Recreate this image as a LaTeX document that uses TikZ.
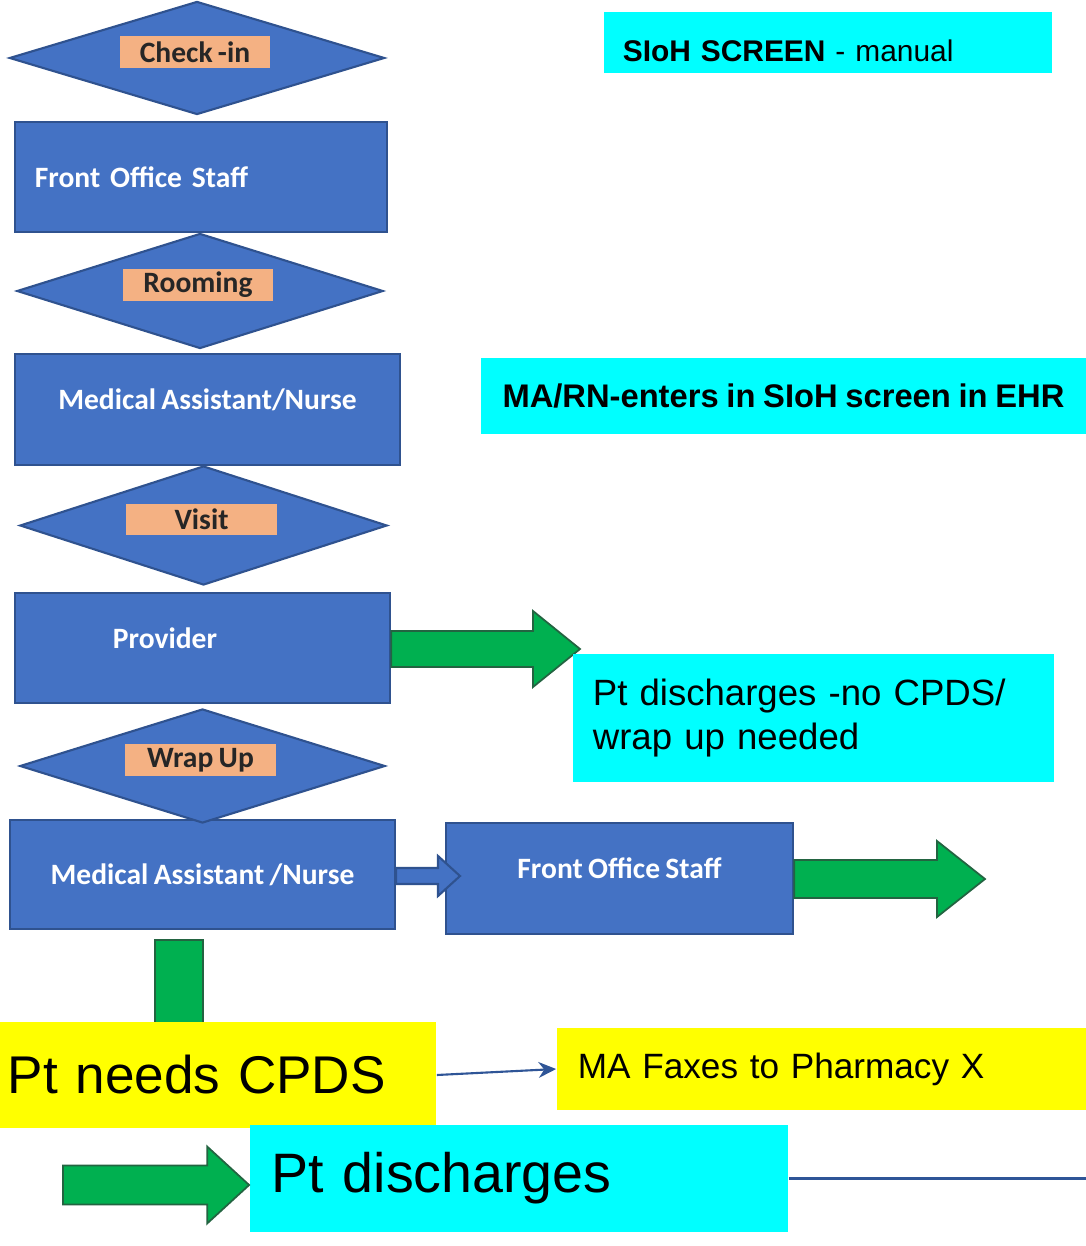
\documentclass[tikz,border=0pt]{standalone}
\usepackage{fontspec}
\setmainfont{Liberation Sans}[WordSpace=0.85]
\newfontfamily\calibfont{Carlito}[WordSpace=0.8]
\usetikzlibrary{shapes.geometric, arrows.meta, positioning, calc}
\definecolor{flowblue}{RGB}{68,114,196}
\definecolor{flowedge}{RGB}{47,82,143}
\definecolor{tagorange}{RGB}{244,177,131}
\definecolor{flowgreen}{RGB}{0,176,80}
\definecolor{greenedge}{RGB}{35,100,65}
\definecolor{notecyan}{RGB}{0,255,255}
\definecolor{noteyellow}{RGB}{255,255,0}
\definecolor{linkblue}{RGB}{47,85,151}
% style, from, tip, body half, head half, head length
\newcommand{\blockarrow}[6]{%
  \draw[#1] ($(#2 |- #3)+(0,-#4)$) -- ($(#3)+(-#6,-#4)$) -- ($(#3)+(-#6,-#5)$) -- (#3)
    -- ($(#3)+(-#6,#5)$) -- ($(#3)+(-#6,#4)$) -- ($(#2 |- #3)+(0,#4)$) -- cycle;}

\begin{document}
\begin{tikzpicture}[x=0.01cm, y=-0.01cm]
    \tikzset{proc/.style={rectangle, draw=flowedge, line width=0.6pt, fill=flowblue,
                          text=white, align=center,
                          font=\calibfont\bfseries\fontsize{8.4}{10}\selectfont},
             raised/.style={text height=0.2cm, text depth=0.2cm},
             gate/.style={diamond, draw=flowedge, line width=0.6pt, fill=flowblue,
                          inner sep=0pt},
             tag/.style={rectangle, fill=tagorange, minimum width=1.50cm,
                         minimum height=0.31cm, inner sep=0pt, text=black!85,
                         font=\calibfont\bfseries\fontsize{8.4}{10}\selectfont},
             note/.style={rectangle, fill=notecyan, inner ysep=0pt, align=left},
             garrow/.style={fill=flowgreen, draw=greenedge, line width=0.5pt},
             barrow/.style={fill=flowblue, draw=flowedge, line width=0.6pt},
             link/.style={linkblue, line width=0.6pt}}
    \path[use as bounding box, fill=white] (0,0) rectangle (1086,1246);

    \node[proc, minimum width=3.72cm, minimum height=1.10cm, text width=3.32cm,
          inner xsep=0.20cm, align=left] (fos1) at (201,177) {Front Office Staff};
    \node[proc, raised, minimum width=3.85cm, minimum height=1.11cm] (ma1) at (207.5,409.5)
          {Medical Assistant/Nurse};
    \node[proc, raised, minimum width=3.75cm, minimum height=1.10cm, text width=1.79cm,
          inner xsep=0.98cm, align=left] (prov) at (202.5,648) {Provider};
    \node[proc, minimum width=3.85cm, minimum height=1.09cm] (ma2) at (202.5,874.5)
          {Medical Assistant /Nurse};
    \node[proc, raised, minimum width=3.47cm, minimum height=1.11cm] (fos2) at (619.5,878.5)
          {Front Office Staff};

    \node[gate, minimum width=3.75cm, minimum height=1.13cm] (chk) at (197,58) {};
    \node[gate, minimum width=3.66cm, minimum height=1.15cm] (room) at (200,291) {};
    \node[gate, minimum width=3.67cm, minimum height=1.19cm] (visit) at (203.5,525.5) {};
    \node[gate, minimum width=3.65cm, minimum height=1.14cm] (wrap) at (202.5,766) {};
    \foreach \g/\t in {chk/Check -in, room/Rooming, visit/Visit, wrap/Wrap Up}
      \node[tag] (\g-tag) at ($(\g)+(-2,-6)$) {\t};

    \coordinate (provtip) at (580,649);
    \coordinate (exittip) at (985,879);
    \coordinate (handtip) at (460,876);
    \coordinate (tail) at (63,1185);
    \blockarrow{garrow}{prov.east}{provtip}{18}{38}{47}
    \blockarrow{garrow}{fos2.east}{exittip}{19}{38}{48}
    \blockarrow{barrow}{ma2.east}{handtip}{8}{20}{22}
    \draw[garrow] (155,940) rectangle (203,1040);

    \node[note, minimum width=4.48cm, minimum height=0.61cm, text width=4.10cm,
          inner xsep=0.19cm, text height=0.38cm, text depth=0cm,
          font=\fontsize{8.5}{10}\selectfont] (sioh) at (828,42.5)
          {\textbf{SIoH SCREEN} - manual};
    \node[note, minimum width=6.05cm, minimum height=0.76cm, align=center,
          font=\bfseries\fontsize{9.3}{11}\selectfont] (marn) at (783.5,396)
          {MA/RN-enters in SIoH screen in EHR};
    \node[note, text width=4.41cm, inner xsep=0.20cm, minimum height=1.28cm,
          font=\fontsize{10.4}{12.5}\selectfont] (nocpds) at (813.5,718)
          {Pt discharges -no CPDS/\\wrap up needed};
    \node[note, fill=noteyellow, text width=4.20cm, inner xsep=0.08cm,
          minimum height=1.06cm, font=\fontsize{15.1}{18}\selectfont] (need) at (218,1075)
          {Pt needs CPDS};
    \node[note, fill=noteyellow, text width=4.87cm, inner xsep=0.21cm,
          minimum height=0.82cm, font=\fontsize{10}{12}\selectfont] (fax) at (821.5,1069)
          {MA Faxes to Pharmacy X};
    \node[note, text width=4.94cm, inner xsep=0.22cm, minimum height=1.07cm,
          font=\fontsize{15.8}{19}\selectfont] (disch) at (519,1178.5) {Pt discharges};

    \coordinate (dischtip) at (disch.west |- tail);
    \blockarrow{garrow}{tail}{dischtip}{19.5}{38.5}{42}
    \coordinate (rend) at (1086,1178.5);
    \draw[link, -{Stealth[length=5pt, width=4.5pt]}] (need.east) -- (fax.west);
    \draw[link] (disch.east) -- (rend);
  \end{tikzpicture}
\end{document}
